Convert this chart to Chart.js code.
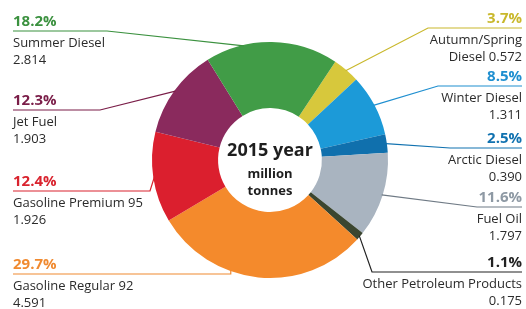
<!DOCTYPE html>
<html>
<head>
<meta charset="utf-8">
<script src="https://cdn.jsdelivr.net/npm/chart.js@4"></script>
<style>
  html, body { margin: 0; padding: 0; background: #fff; }
  #wrap { width: 526px; height: 309px; }
</style>
</head>
<body>
<div id="wrap"><canvas id="pieChart" width="526" height="309"></canvas></div>
<script>
// 2015 output, million tonnes (clockwise from the yellow slice)
var products = [
  'Autumn/Spring Diesel',
  'Winter Diesel',
  'Arctic Diesel',
  'Fuel Oil',
  'Other Petroleum Products',
  'Gasoline Regular 92',
  'Gasoline Premium 95',
  'Jet Fuel',
  'Summer Diesel'
];
var volumes = [0.572, 1.311, 0.390, 1.797, 0.175, 4.591, 1.926, 1.903, 2.814];
var shares = ['3.7%', '8.5%', '2.5%', '11.6%', '1.1%', '29.7%', '12.4%', '12.3%', '18.2%'];

var ringColors = ['#d7c83c', '#1c9ad8', '#1070ad', '#a9b4c0', '#3b4630', '#f48a2c', '#db1f2e', '#8a2a5d', '#419c47'];
var textColors = ['#c9b82c', '#1f8fd0', '#1172b0', '#8e99a4', '#222222', '#f08a30', '#d9232e', '#7a1d48', '#3b913f'];
var lineColors = ['#c9b82c', '#1f8fd0', '#1172b0', '#6f7a85', '#222222', '#f08a30', '#d9232e', '#7a1d48', '#3b913f'];

// callout layout: underline y, elbow x, where on the slice the leader starts
var calloutY = [28, 86, 148, 207, 272, 274, 191, 110, 31];
var elbowX = [428, 438, 450, 477, 372, null, 150, 100, 107];
var anchorAt = [0.5, 0.5, 0.5, 0.5, 0.5, 0.63, 0.5, 0.5, 0.29];

function labelLines(i) {
  var name = products[i];
  var v = volumes[i].toFixed(3);
  if (name.indexOf('/') > -1) {
    var parts = name.split(' ');
    return [parts[0], parts[1] + ' ' + v];
  }
  return [name, v];
}

const callouts = {
  id: 'callouts',
  afterDraw(chart) {
    const ctx = chart.ctx;
    const arcs = chart.getDatasetMeta(0).data;
    const font = '"Open Sans", sans-serif';
    ctx.save();
    arcs.forEach((arc, i) => {
      const p = arc.getProps(['x', 'y', 'startAngle', 'endAngle', 'outerRadius'], true);
      const a = p.startAngle + (p.endAngle - p.startAngle) * anchorAt[i];
      const ax = p.x + Math.cos(a) * (p.outerRadius - 1);
      const ay = p.y + Math.sin(a) * (p.outerRadius - 1);
      const right = Math.cos(a) > 0;
      const y = calloutY[i];
      const ex = elbowX[i] == null ? ax : elbowX[i];
      const endX = right ? 522 : 13;

      ctx.strokeStyle = lineColors[i];
      ctx.lineWidth = 1.2;
      ctx.beginPath();
      ctx.moveTo(ax, ay);
      ctx.lineTo(ex, y);
      ctx.lineTo(endX, y);
      ctx.stroke();

      ctx.textAlign = right ? 'right' : 'left';
      ctx.textBaseline = 'alphabetic';
      ctx.fillStyle = textColors[i];
      ctx.font = 'bold 15px ' + font;
      ctx.fillText(shares[i], endX, y - 5);

      ctx.fillStyle = '#2b2b2b';
      ctx.font = '13px ' + font;
      const lines = labelLines(i);
      ctx.fillText(lines[0], endX, y + 16);
      ctx.fillText(lines[1], endX, y + 33);
    });

    // centre caption
    const c = arcs[0];
    ctx.textAlign = 'center';
    ctx.fillStyle = '#1e1e1e';
    ctx.font = 'bold 18px ' + font;
    ctx.fillText('2015 year', c.x, c.y - 4);
    ctx.font = 'bold 13px ' + font;
    ctx.fillText('million', c.x, c.y + 18);
    ctx.fillText('tonnes', c.x, c.y + 35);
    ctx.restore();
  }
};

var data = {
  labels: products,
  datasets: [{
    data: volumes,
    backgroundColor: ringColors,
    borderWidth: 0,
    hoverOffset: 0
  }]
};

const config = {
  type: 'doughnut',
  data: data,
  options: {
    responsive: false,
    animation: false,
    rotation: 33.6,
    cutout: '44%',
    layout: { padding: { left: 152, right: 138, top: 42, bottom: 31 } },
    plugins: { legend: { display: false }, tooltip: { enabled: false } }
  },
  plugins: [callouts]
};

const myChart = new Chart(document.getElementById('pieChart'), config);
</script>
</body>
</html>
